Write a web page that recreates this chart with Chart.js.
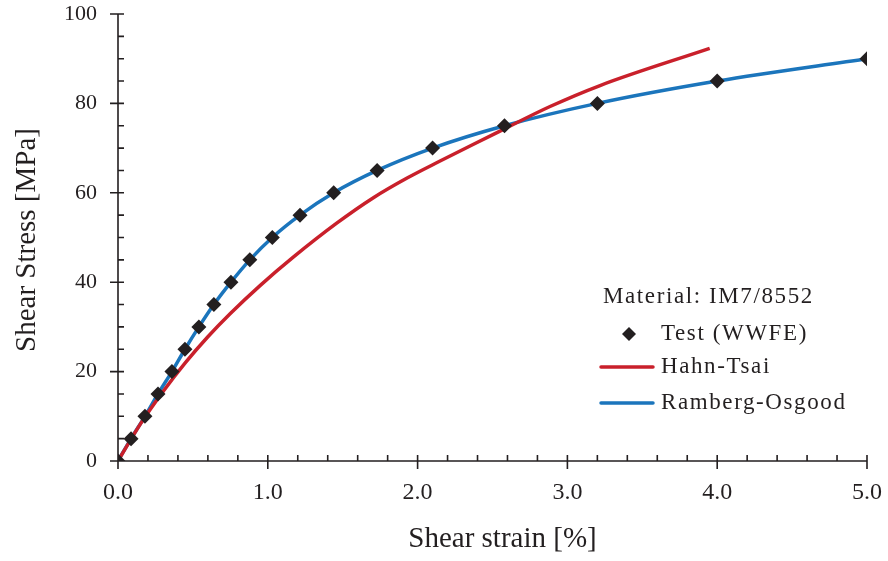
<!DOCTYPE html>
<html>
<head>
<meta charset="utf-8">
<script src="https://cdn.jsdelivr.net/npm/chart.js@4.4.1/dist/chart.umd.min.js"></script>
<style>
  body { margin: 0; background: #fff; }
  #wrap { width: 888px; height: 561px; }
</style>
</head>
<body>
<div id="wrap"><canvas id="c" width="888" height="561"></canvas></div>
<script>
// test data (WWFE), strain in %, stress in MPa
const testStrain = [0, 0.087, 0.18, 0.267, 0.36, 0.447, 0.54, 0.64, 0.754, 0.88, 1.03, 1.215, 1.44, 1.73, 2.10, 2.58, 3.20, 4.0, 5.0]
const testStress = [0, 5, 10, 15, 20, 25, 30, 35, 40, 45, 50, 55, 60, 65, 70, 75, 80, 85, 90]

// Hahn-Tsai curve
const htStrain = [0, 0.15, 0.3, 0.45, 0.6, 0.75, 0.95, 1.17, 1.46, 1.705, 1.93, 2.15, 2.37, 2.55, 2.884, 3.218, 3.95]
const htStress = [0, 8.3, 15.5, 22.0, 27.8, 33.0, 39.3, 45.6, 53.2, 58.9, 63.3, 67.1, 70.8, 73.8, 79.3, 84.0, 92.3]

// Ramberg-Osgood fit goes through the test points
const roStrain = testStrain
const roStress = testStress

const xTicks = [0, 1, 2, 3, 4, 5]
const yTicks = [0, 20, 40, 60, 80, 100]

const pts = (xs, ys) => xs.map((x, i) => ({x: x, y: ys[i]}))

const FONT = '"Liberation Serif", "Times New Roman", serif'
const RED = '#c9202b'
const BLUE = '#1b75bc'
const INK = '#231f20'

// axes, ticks, titles and the legend box are drawn by hand
const axesPlugin = {
  id: 'axesPlugin',
  afterDatasetsDraw(chart) {
    const ctx = chart.ctx
    const xs = chart.scales.x, ys = chart.scales.y
    const a = chart.chartArea
    ctx.save()
    ctx.strokeStyle = INK
    ctx.fillStyle = INK
    ctx.lineWidth = 1.6
    ctx.beginPath()
    ctx.moveTo(a.left, a.top); ctx.lineTo(a.left, a.bottom)
    ctx.moveTo(a.left, a.bottom); ctx.lineTo(a.right, a.bottom)
    // y minor every 5, major every 20
    for (let v = 0; v <= 100; v += 5) {
      const py = ys.getPixelForValue(v)
      if (v % 20 === 0) { ctx.moveTo(a.left - 8, py); ctx.lineTo(a.left + 6, py) }
      else { ctx.moveTo(a.left, py); ctx.lineTo(a.left + 6, py) }
    }
    // x minor every 0.2, major every 1
    for (let i = 0; i <= 25; i++) {
      const px = xs.getPixelForValue(i * 0.2)
      if (i % 5 === 0) { ctx.moveTo(px, a.bottom - 6); ctx.lineTo(px, a.bottom + 8) }
      else { ctx.moveTo(px, a.bottom - 6); ctx.lineTo(px, a.bottom) }
    }
    ctx.stroke()

    ctx.font = '22px ' + FONT
    ctx.textAlign = 'right'
    ctx.textBaseline = 'middle'
    yTicks.forEach(v => ctx.fillText(String(v), a.left - 21, ys.getPixelForValue(v)))
    ctx.font = '24px ' + FONT
    ctx.textAlign = 'center'
    ctx.textBaseline = 'middle'
    xTicks.forEach(v => ctx.fillText(v.toFixed(1), xs.getPixelForValue(v), a.bottom + 32))

    ctx.font = '29px ' + FONT
    ctx.fillText('Shear strain [%]', (a.left + a.right) / 2 + 10, a.bottom + 78)
    ctx.save()
    ctx.translate(27, 240)
    ctx.rotate(-Math.PI / 2)
    ctx.fillText('Shear Stress [MPa]', 0, 0)
    ctx.restore()

    // legend inside plot
    ctx.font = '23px ' + FONT
    ctx.letterSpacing = '1.6px'
    ctx.textAlign = 'left'
    ctx.fillText('Material: IM7/8552', 603, 297)
    const rows = [334, 367, 403]
    chart.data.datasets.forEach((ds, i) => {
      const y = rows[i]
      if (ds.showLine === false) {
        const r = 7
        const cx = 629
        ctx.beginPath()
        ctx.moveTo(cx, y - r); ctx.lineTo(cx + r, y); ctx.lineTo(cx, y + r); ctx.lineTo(cx - r, y)
        ctx.closePath()
        ctx.fill()
      } else {
        ctx.strokeStyle = ds.borderColor
        ctx.lineWidth = 3.5
        ctx.lineCap = 'round'
        ctx.beginPath()
        ctx.moveTo(601, y); ctx.lineTo(653, y)
        ctx.stroke()
      }
      ctx.fillText(ds.label, 661, y)
    })
    ctx.restore()
  }
}

new Chart(document.getElementById('c'), {
  type: 'scatter',
  data: {
    datasets: [
      {
        label: 'Test (WWFE)',
        data: pts(testStrain, testStress),
        showLine: false,
        pointStyle: 'rectRot',
        pointRadius: 7.5,
        backgroundColor: INK,
        borderColor: INK,
        borderWidth: 0
      },
      {
        label: 'Hahn-Tsai',
        data: pts(htStrain, htStress),
        showLine: true,
        borderColor: RED,
        borderWidth: 3.5,
        pointRadius: 0,
        cubicInterpolationMode: 'monotone'
      },
      {
        label: 'Ramberg-Osgood',
        data: pts(roStrain, roStress),
        showLine: true,
        borderColor: BLUE,
        borderWidth: 3.5,
        pointRadius: 0,
        cubicInterpolationMode: 'monotone'
      }
    ]
  },
  options: {
    responsive: false,
    animation: false,
    layout: { padding: { left: 118, right: 21, top: 14, bottom: 100 } },
    plugins: { legend: { display: false }, tooltip: { enabled: false } },
    scales: {
      x: { type: 'linear', min: 0, max: 5, display: false },
      y: { type: 'linear', min: 0, max: 100, display: false }
    }
  },
  plugins: [axesPlugin]
})
</script>
</body>
</html>
